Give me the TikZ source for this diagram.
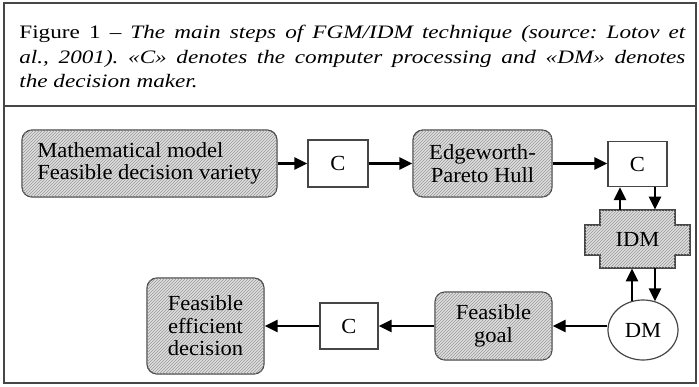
\documentclass[tikz,border=0pt]{standalone}
\usepackage{fontspec}
\setmainfont{Liberation Serif}
\newfontfamily\capfont[Ligatures=TeX,FakeStretch=1.22]{Liberation Serif}
\newfontfamily\boxfont[Ligatures=TeX,FakeStretch=1.05]{Liberation Serif}
\usetikzlibrary{positioning}
\usetikzlibrary{calc}
\usetikzlibrary{arrows.meta}
\usetikzlibrary{shapes.geometric}
\usetikzlibrary{patterns}
\definecolor{framegray}{RGB}{70,70,70}
\tikzset{
	every node/.style={align=center,inner sep=0pt},
	every path/.style={thick},
	hatched/.style={draw=framegray,line width=1.2pt,fill=black!13,
		postaction={pattern=north east lines,pattern color=black!40}},
	stepbox/.style={hatched,rounded corners=10pt},
	cbox/.style={draw=framegray,line width=1.2pt,fill=white},
	arr/.style={line width=2.6pt,-{Triangle[length=13pt,width=12pt]}},
}

\begin{document}
\frenchspacing
\begin{tikzpicture}[x=1pt,y=-1pt,font=\boxfont\fontsize{21.5}{22.5}\selectfont]
	\useasboundingbox (0,0) rectangle (699,386);

	%frame and caption.....................
	\draw [framegray,line width=1.5pt] (4,3) rectangle (696,383);
	\draw [framegray,line width=1.5pt] (4,106) -- (696,106);
	\node (caption) [anchor=north west,text width=666pt,align=justify,
		font=\capfont\fontsize{19}{24.5}\selectfont] at (19,25)
		{Figure 1 -- \textit{The main steps of FGM/IDM technique (source: Lotov et\linebreak
		al., 2001). «C» denotes the computer processing and «DM» denotes\linebreak
		the decision maker.}};

	%top row......................
	\node (model) [stepbox,minimum width=255pt,minimum height=67pt,align=left]
		at (149.5,163.5) {Mathematical model\\Feasible decision variety};
	\node (c1) [cbox,minimum width=60pt,minimum height=47pt] at (338,163.5) {C};
	\node (hull) [stepbox,minimum width=139pt,minimum height=67pt] at (482.5,163.5)
		{Edgeworth-\\Pareto Hull};
	\node (c2) [cbox,minimum width=59pt,minimum height=45pt] at (637.5,164) {C};

	%IDM block.....................
	\draw [hatched] (600,210) -- (675,210) -- (675,225) -- (690,225) -- (690,255)
		-- (675,255) -- (675,268) -- (600,268) -- (600,255) -- (585,255)
		-- (585,225) -- (600,225) -- cycle;
	\node (idm) [minimum width=75pt,minimum height=58pt] at (637.5,239) {IDM};

	%bottom row......................
	\node (dm) [ellipse,cbox,minimum width=70pt,minimum height=60pt] at (643,330) {DM};
	\node (goal) [stepbox,minimum width=117pt,minimum height=68pt] at (493.5,326)
		{Feasible\\goal};
	\node (c3) [cbox,minimum width=58pt,minimum height=46pt] at (349,326) {C};
	\node (final) [stepbox,minimum width=117pt,minimum height=96pt] at (205.5,326)
		{Feasible\\efficient\\decision};

	% arrows.....................
	\draw [arr] (model) -- (c1);
	\draw [arr] (c1) -- (hull);
	\draw [arr] (hull.east) -- (hull.east -| c2.west);
	\draw [arr] ([xshift=-17.5pt]idm.north) -- ([xshift=-17.5pt]c2.south);
	\draw [arr] ([xshift=17.5pt]c2.south) -- ([xshift=17.5pt]idm.north);
	\draw [arr] ([xshift=-5.5pt,yshift=-1.5pt]idm.south |- dm.north) -- ([xshift=-5.5pt]idm.south);
	\draw [arr] ([xshift=17.5pt]idm.south) -- ([xshift=17.5pt,yshift=-2pt]idm.south |- dm.north);
	\draw [arr] (dm.west |- goal) -- (goal.east);
	\draw [arr] (goal) -- (c3);
	\draw [arr] (c3) -- (final);
\end{tikzpicture}
\end{document}
